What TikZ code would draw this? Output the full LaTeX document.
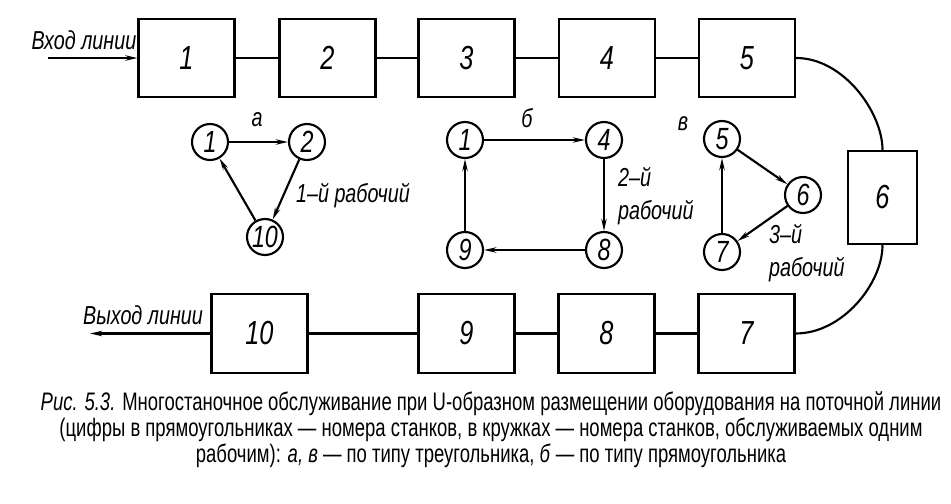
\documentclass[tikz,border=0pt]{standalone}
\usepackage{fontspec}
\setmainfont[FakeStretch=0.73]{Liberation Sans}
\newfontfamily\gostfont[FakeStretch=0.76]{Liberation Sans}
\usetikzlibrary{arrows.meta}

\begin{document}
\begin{tikzpicture}[x=0.75pt,y=0.75pt,yscale=-1,xscale=1,line width=1.6pt,
    >={Stealth[length=9pt,width=4pt]},
    stanok/.style={draw,minimum width=72pt,minimum height=59pt,inner sep=0pt,font=\gostfont\itshape\fontsize{25}{28}\selectfont},
    krug/.style={draw,circle,minimum size=27pt,inner sep=0pt,font=\gostfont\itshape\fontsize{23}{28}\selectfont},
    metka/.style={inner sep=0.75pt,font=\gostfont\itshape\fontsize{19.5}{24.75}\selectfont}]
\useasboundingbox (0,0) rectangle (951,504);
% станки, верхний ряд
\node (b1) [stanok] at (186.5,58) {1};
\node (b2) [stanok] at (327.5,58) {2};
\node (b3) [stanok] at (466.5,58) {3};
\node (b4) [stanok] at (607,58) {4};
\node (b5) [stanok] at (747,58) {5};
\node (b6) [stanok,minimum width=52pt,minimum height=70pt] at (882.5,197.5) {6};
% нижний ряд
\node (b7) [stanok] at (746.5,333.5) {7};
\node (b8) [stanok] at (606.5,333.5) {8};
\node (b9) [stanok] at (466.5,333.5) {9};
\node (b10) [stanok] at (259.5,333.5) {10};
\coordinate (vhod) at (48,58);
\coordinate (vyhod) at (90,333.5);
\draw [->] (vhod) -- (b1.west);
\draw (b1) -- (b2);
\draw (b2) -- (b3);
\draw (b3) -- (b4);
\draw (b4) -- (b5);
\draw (b5.east) .. controls (844,58) and (882.5,113) .. (b6.north);
\draw (b6.south) .. controls (882.5,283) and (843,333.5) .. (b7.east);
\draw (b7) -- (b8);
\draw (b8) -- (b9);
\draw (b9) -- (b10);
\draw [->] (b10.west) -- (vyhod);
\node (lvhod) [metka] at (84,40) {Вход линии};
\node (lvyhod) [metka] at (143,315) {Выход линии};
% а -- треугольник
\node (a1) [krug] at (210,142) {1};
\node (a2) [krug] at (307,142) {2};
\node (a10) [krug] at (265,237) {10};
\draw [->] (a1) -- (a2);
\draw [->] (a2) -- (a10);
\draw [->] (a10) -- (a1);
\node (la) [metka] at (257,120) {а};
\node (ra) [metka,anchor=west] at (294,196) {1–й рабочий};
% б -- прямоугольник
\node (c1) [krug] at (465,140) {1};
\node (c4) [krug] at (604,140) {4};
\node (c8) [krug] at (604,250) {8};
\node (c9) [krug] at (465,250) {9};
\draw [->] (c1) -- (c4);
\draw [->] (c4) -- (c8);
\draw [->] (c8) -- (c9);
\draw [->] (c9) -- (c1);
\node (lb) [metka] at (527,118) {б};
\node (rb) [metka,anchor=west,align=left] at (616,196) {2–й\\рабочий};
% в -- треугольник
\node (d5) [krug] at (722,139) {5};
\node (d6) [krug] at (803,195) {6};
\node (d7) [krug] at (722,252) {7};
\draw [->] (d5) -- (d6);
\draw [->] (d6) -- (d7);
\draw [->] (d7) -- (d5);
\node (lv) [metka] at (683,124) {в};
\node (rv) [metka,anchor=west,align=left] at (767,253) {3–й\\рабочий};
% подпись
\node (podpis) [align=center,inner sep=0pt,font=\fontsize{19}{19.5}\selectfont] at (491,430)
  {\textit{Рис. 5.3.} Многостаночное обслуживание при U-образном размещении оборудования на поточной линии\\
   (цифры в прямоугольниках — номера станков, в кружках — номера станков, обслуживаемых одним\\
   рабочим): \textit{а, в} — по типу треугольника, \textit{б} — по типу прямоугольника};
\end{tikzpicture}
\end{document}
